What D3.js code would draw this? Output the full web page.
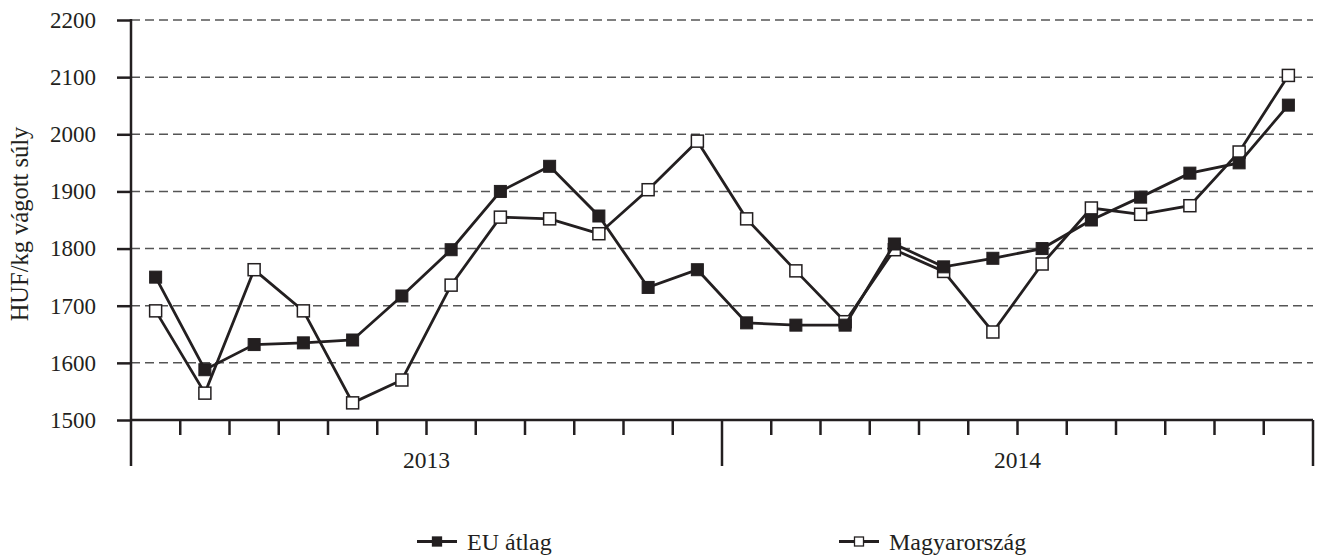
<!DOCTYPE html>
<html><head><meta charset="utf-8">
<script src="https://cdn.jsdelivr.net/npm/d3@7"></script>
<style>body{margin:0;background:#fff;}svg{display:block;font-family:"Liberation Serif","Times New Roman",serif;}svg text{font-family:"Liberation Serif","Times New Roman",serif;}</style>
</head><body><svg id="c" width="1322" height="555"></svg>
<script>
const months = ["2013-01","2013-02","2013-03","2013-04","2013-05","2013-06","2013-07","2013-08","2013-09","2013-10","2013-11","2013-12",
"2014-01","2014-02","2014-03","2014-04","2014-05","2014-06","2014-07","2014-08","2014-09","2014-10","2014-11","2014-12"];
const years = ["2013","2014"];
const euAvg = [1750,1588,1632,1635,1640,1717,1798,1900,1944,1857,1732,1763,1670,1666,1666,1808,1768,1783,1800,1850,1890,1932,1950,2051];
const hungary = [1691,1547,1763,1691,1530,1570,1736,1855,1852,1826,1903,1988,1852,1761,1672,1798,1760,1654,1773,1871,1860,1875,1969,2103];
const yTicks = [1500,1600,1700,1800,1900,2000,2100,2200];
const seriesNames = ["EU átlag","Magyarország"];

const svg = d3.select("#c");
const ink = "#231f20";
const L = 131, R = 1313, T = 20, B = 420;
const x = d3.scaleBand().domain(months).range([L, R]).padding(0);
const y = d3.scaleLinear().domain([1500,2200]).range([B, T]);

// gridlines
svg.append("g").selectAll("line").data(yTicks.filter(v=>v>1500)).join("line")
  .attr("x1", L).attr("x2", R).attr("y1", d=>y(d)).attr("y2", d=>y(d))
  .attr("stroke", "#555").attr("stroke-width", 1.5).attr("stroke-dasharray", "9,5");

// y axis
const ya = svg.append("g").attr("transform", `translate(${L},0)`)
  .call(d3.axisLeft(y).tickValues(yTicks).tickSize(14).tickPadding(21).tickFormat(d3.format("d")));
ya.attr("font-family", null).attr("font-size", null);
ya.select(".domain").remove();
ya.selectAll(".tick line").attr("stroke", ink).attr("stroke-width", 2.5);
ya.selectAll(".tick text").attr("fill", ink).style("font-size", "23px");
svg.append("line").attr("x1", L).attr("x2", L).attr("y1", T - 1).attr("y2", 466).attr("stroke", ink).attr("stroke-width", 2.5);

// x axis
svg.append("line").attr("x1", L).attr("x2", R).attr("y1", B).attr("y2", B).attr("stroke", ink).attr("stroke-width", 2.5);
svg.append("g").selectAll("line").data(months.slice(1)).join("line")
  .attr("x1", d=>x(d)).attr("x2", d=>x(d)).attr("y1", B)
  .attr("y2", (d)=> d.endsWith("-01") ? 466 : 435)
  .attr("stroke", ink).attr("stroke-width", 2.5);
svg.append("line").attr("x1", R).attr("x2", R).attr("y1", B).attr("y2", 466).attr("stroke", ink).attr("stroke-width", 2.5);
svg.append("g").selectAll("text").data(years).join("text")
  .attr("x", yr => { const ms = months.filter(m=>m.startsWith(yr)); return (x(ms[0]) + x(ms[ms.length-1]) + x.bandwidth())/2; })
  .attr("y", 468).attr("text-anchor","middle").style("font-size","23.5px").attr("fill",ink).text(d=>d);

// y title
svg.append("text").attr("transform", `translate(28,${(T+B)/2 + 4}) rotate(-90)`)
  .attr("text-anchor","middle").style("font-size","24.5px").attr("fill",ink).text("HUF/kg vágott súly");

const cx = d => x(d) + x.bandwidth()/2;
const line = d3.line().x((d,i)=>cx(months[i])).y(d=>y(d));
const sq = 12;
function drawSeries(vals, filled){
  const g = svg.append("g");
  g.append("path").datum(vals).attr("d", line).attr("fill","none").attr("stroke", ink).attr("stroke-width", 2.8).attr("stroke-linejoin","miter");
  g.selectAll("rect").data(vals).join("rect")
    .attr("x",(d,i)=>cx(months[i]) - sq/2).attr("y", d=>y(d) - sq/2).attr("width", sq).attr("height", sq)
    .attr("fill", filled ? ink : "#fff").attr("stroke", ink).attr("stroke-width", filled ? 1 : 1.5);
}
drawSeries(hungary, false);
drawSeries(euAvg, true);

// legend
const legend = [{name: seriesNames[0], filled: true, x: 417}, {name: seriesNames[1], filled: false, x: 839}];
const lg = svg.append("g").selectAll("g").data(legend).join("g").attr("transform", d=>`translate(${d.x},541.5)`);
lg.append("line").attr("x1",0).attr("x2",40).attr("y1",0).attr("y2",0).attr("stroke",ink).attr("stroke-width",2.8);
lg.append("rect").attr("x",15.5).attr("y",-4.5).attr("width",9).attr("height",9)
  .attr("fill", d=>d.filled?ink:"#fff").attr("stroke",ink).attr("stroke-width",1.3);
lg.append("text").attr("x",50).attr("y",8).style("font-size","24px").attr("fill",ink).text(d=>d.name);
</script></body></html>
